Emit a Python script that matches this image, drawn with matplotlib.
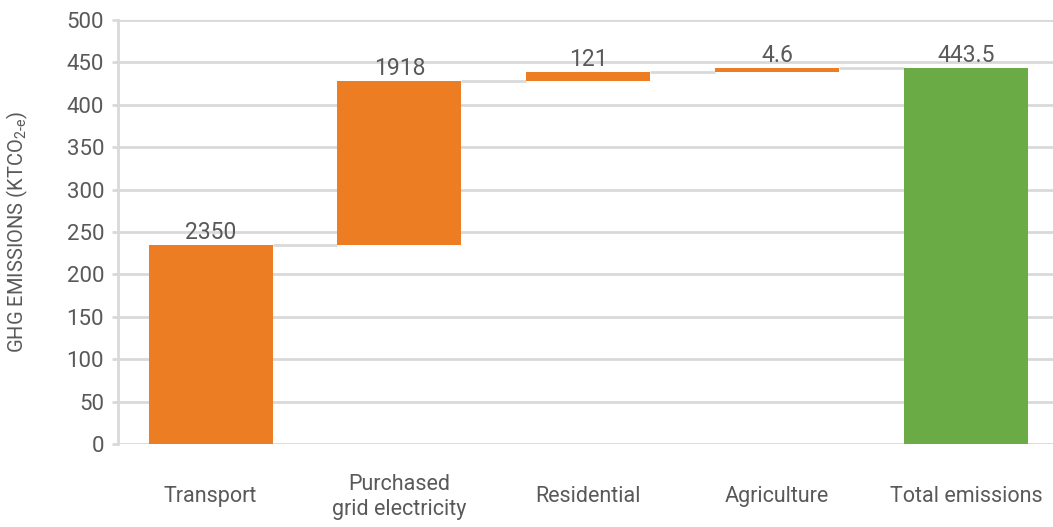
import numpy as np
import matplotlib.pyplot as plt

plt.rcParams['font.family'] = ['Roboto', 'DejaVu Sans']
plt.rcParams['mathtext.fontset'] = 'custom'
plt.rcParams['mathtext.rm'] = 'Roboto'
plt.rcParams['mathtext.it'] = 'Roboto'

# Data
categories = ['Transport', 'Purchased\ngrid electricity', 'Residential', 'Agriculture', 'Total emissions']
steps = [235.0, 193.0, 10.9, 4.6]
total = 443.5
value_labels = ['2350', '1918', '121', '4.6', '443.5']

orange = '#ED7D22'
green = '#6AAB45'
grid_c = '#D9D9D9'
text_c = '#595959'

bottoms = np.concatenate([[0], np.cumsum(steps)[:-1], [0]])
heights = np.array(steps + [total])
tops = bottoms + heights
colors = [orange] * len(steps) + [green]

fig = plt.figure(figsize=(10.53, 5.27), dpi=100)
ax = fig.add_axes([118 / 1053, 1 - 444 / 527, (1053 - 118) / 1053, 424 / 527])

x = np.arange(len(categories))
w = 0.656
ax.bar(x, heights, bottom=bottoms, width=w, color=colors, zorder=3)

# connectors
for i in range(len(steps)):
    ax.plot([x[i] + w / 2, x[i + 1] - w / 2], [tops[i], tops[i]],
            color=grid_c, lw=2, zorder=2, solid_capstyle='butt')

for xi, t, lab in zip(x, tops, value_labels):
    ax.text(xi, t + 1, lab, ha='center', va='bottom', fontsize=16.5, color=text_c, zorder=4)

ax.set_xlim(-0.49, 4.46)
ax.set_ylim(0, 500)
ax.set_yticks(np.arange(0, 501, 50))
ax.yaxis.grid(True, color=grid_c, lw=2, zorder=0)
ax.set_axisbelow(True)

ax.set_xticks(x)
ax.set_xticklabels(categories, fontsize=15.5, color=text_c, linespacing=1.25)
for t in ax.get_xticklabels():
    t.set_verticalalignment('center')
ax.tick_params(axis='x', length=0, pad=38)
ax.tick_params(axis='y', labelsize=16, labelcolor=text_c, color=grid_c, length=4, width=2, pad=6)

for s in ['top', 'right', 'bottom']:
    ax.spines[s].set_visible(False)
ax.spines['left'].set_color(grid_c)
ax.spines['left'].set_linewidth(2)

ax.set_ylabel(r'GHG EMISSIONS (KTCO$_{\text{2-e}}$)', fontsize=14.5, color=text_c)
ax.yaxis.set_label_coords(-(118 - 30) / 935, 0.5)

fig.savefig('out.png', dpi=100)
